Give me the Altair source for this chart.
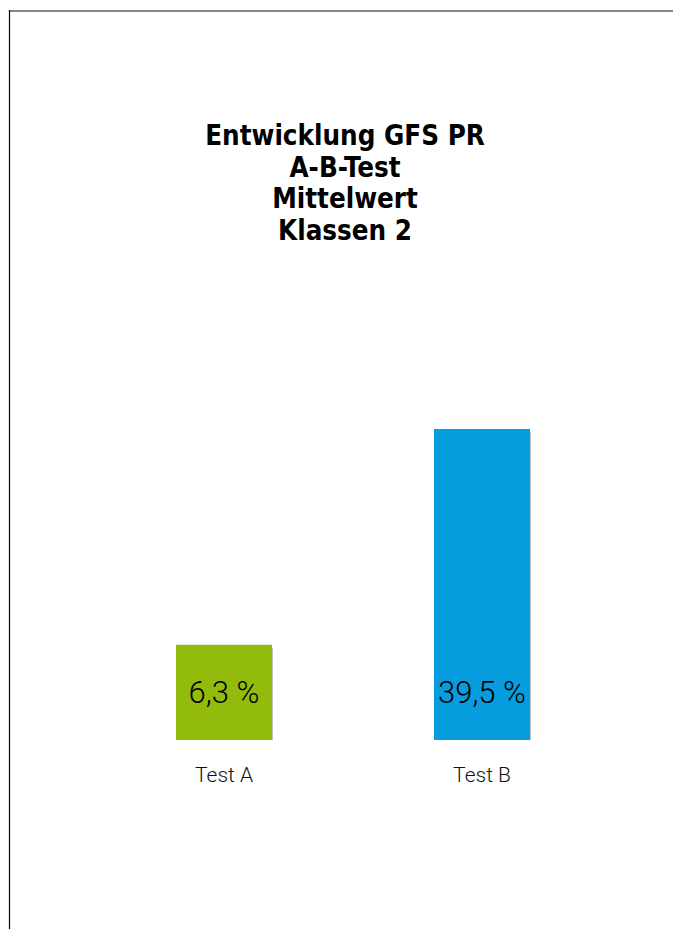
import altair as alt
import pandas as pd

categories = ["Test A", "Test B"]
values = [6.3, 39.5]
value_labels = ["6,3 %", "39,5 %"]
bar_colors = ["#93bb0b", "#069cdd"]
title_lines = ["Entwicklung GFS PR", "A-B-Test", "Mittelwert", "Klassen 2"]

AXIS_MIN = -8.37   # baseline value of the bars
AXIS_TOP = 39.5

W, H = 665, 921
BASE_PX = 732

df = pd.DataFrame({"cat": categories, "val": values, "lab": value_labels})

xscale = alt.Scale(type="band", domain=categories, range=[87, 603],
                   paddingInner=0.6279, paddingOuter=0.314)
yscale = alt.Scale(domain=[AXIS_MIN, AXIS_TOP], range=[BASE_PX, 421], zero=False, nice=False)
cscale = alt.Scale(domain=categories, range=bar_colors)

base = alt.Chart(df)

shadow = base.mark_bar(color="#000000", opacity=0.25, yOffset=3, xOffset=1, cornerRadius=1).encode(
    x=alt.X("cat:N", scale=xscale, axis=None),
    y=alt.Y("val:Q", scale=yscale, axis=None),
    y2=alt.datum(AXIS_MIN),
)

bars = base.mark_bar().encode(
    x=alt.X("cat:N", scale=xscale, axis=None),
    y=alt.Y("val:Q", scale=yscale, axis=None),
    y2=alt.datum(AXIS_MIN),
    color=alt.Color("cat:N", scale=cscale, legend=None),
)

vlabels = base.mark_text(font="Roboto", fontWeight=300, fontSize=31, color="#000000",
                         baseline="alphabetic", align="center", dy=-37).encode(
    x=alt.X("cat:N", scale=xscale, axis=None),
    y=alt.datum(AXIS_MIN, scale=yscale),
    text="lab:N",
)

clabels = base.mark_text(font="Roboto", fontWeight=300, fontSize=21, color="#111111",
                         baseline="alphabetic", align="center", dy=42).encode(
    x=alt.X("cat:N", scale=xscale, axis=None),
    y=alt.datum(AXIS_MIN, scale=yscale),
    text="cat:N",
)

one = alt.Data(values=[{}])

title = alt.Chart(one).mark_text(font="'Liberation Sans Narrow', 'DejaVu Sans Condensed', 'Roboto Condensed', Roboto, sans-serif",
                                 fontWeight="bold", fontSize=27.5,
                                 lineHeight=31.7, baseline="alphabetic", align="center",
                                 color="#000000").encode(
    x=alt.value(337), y=alt.value(137), text=alt.value(title_lines)
)

top_line = alt.Chart(one).mark_rule(color="#888888", strokeWidth=2).encode(
    x=alt.value(1), x2=alt.value(W), y=alt.value(3)
)
left_line = alt.Chart(one).mark_rule(color="#000000", strokeWidth=1.2).encode(
    x=alt.value(1.5), y=alt.value(2), y2=alt.value(H)
)

chart = alt.layer(top_line, left_line, title, shadow, bars, vlabels, clabels).properties(
    width=W, height=H, autosize=alt.AutoSizeParams(type="none"), padding=0
).resolve_scale(y="shared").configure_view(stroke=None)

chart.save("out.html", embed_options={"renderer": "svg", "actions": False})
